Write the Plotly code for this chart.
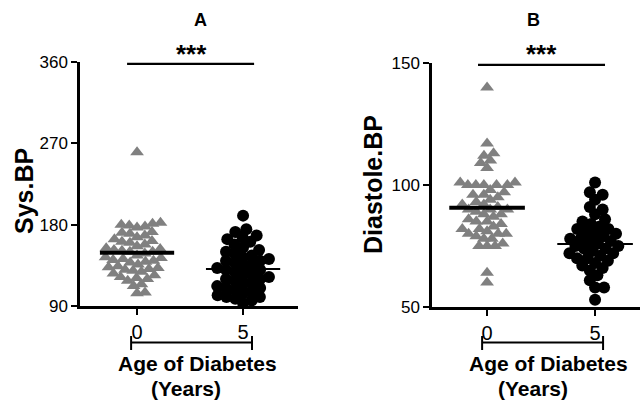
import math
import plotly.graph_objects as go

# ---------------- data ----------------
groups = [0, 5]
group_labels = ["0", "5"]

sys_0 = [260,
         182, 180, 181, 178, 179, 177,
         172, 170, 168, 171, 166,
         164, 162, 160, 158, 161, 156,
         154, 152, 150, 150, 148, 153, 146, 151,
         144, 142, 140, 141, 138, 143, 136, 139,
         134, 132, 130, 131, 128, 133, 126, 129,
         124, 122, 120, 121, 118,
         114, 112,
         104, 105]
sys_5 = [190, 175, 172, 168, 166, 164, 161, 158, 155, 152, 150, 148,
         146, 144, 142, 140, 140, 138, 136, 134, 132, 130, 130, 128, 126,
         124, 122, 120, 120, 118, 116, 114, 112, 110, 110, 108, 106, 104,
         102, 100, 100, 98, 96, 93]
sys_means = [149, 131]

dia_0 = [140, 117, 113, 112, 110, 109, 107, 101, 101, 100, 100, 100, 100, 100,
         98, 97, 96, 96, 95, 94, 93, 92, 92, 91, 90, 90, 90, 89, 88, 88, 87,
         86, 85, 85, 84, 83, 82, 82, 81, 80, 80, 80, 79, 78, 78, 76, 75, 75,
         75, 64, 60]
dia_5 = [101, 97, 96, 94, 91, 90, 88, 86, 85, 84, 83, 82, 82, 81, 80, 80, 79,
         78, 78, 77, 77, 76, 75, 75, 74, 74, 73, 72, 72, 71, 70, 70, 69, 68,
         67, 66, 65, 63, 61, 58, 58, 53]
dia_means = [90.7, 75.8]

sys_ticks = [90, 180, 270, 360]
dia_ticks = [50, 100, 150]
sig_text = "***"

# ---------------- layout geometry ----------------
W, H = 640, 402


def px(x):
    return x / W


def py(y):
    return 1 - y / H


L_dom_x = [px(80), px(298)]
L_dom_y = [py(306), py(62)]
L_xr = [-2.69, 7.59]
L_yr = [90, 360]

R_dom_x = [px(432), px(640)]
R_dom_y = [py(307), py(63)]
R_xr = [-2.55, 7.08]
R_yr = [50, 150]


def scale(dom_x, dom_y, xr, yr):
    wpx = (dom_x[1] - dom_x[0]) * W
    hpx = (dom_y[1] - dom_y[0]) * H
    return wpx / (xr[1] - xr[0]), hpx / (yr[1] - yr[0])


def swarm(values, ppx, ppy, D):
    """beeswarm offsets (data x-units) from values, in pixel space."""
    order = sorted(range(len(values)), key=lambda i: values[i])
    placed = []
    offs = [0.0] * len(values)
    flip = 1
    for i in order:
        y = values[i] * ppy
        ivs = []
        for (xp, yp) in placed:
            dy = abs(y - yp)
            if dy < D:
                w = math.sqrt(D * D - dy * dy)
                ivs.append((xp - w, xp + w))
        cands = [0.0] + [a for a, b in ivs] + [b for a, b in ivs]
        cands.sort(key=lambda c: (round(abs(c), 6), -flip * c))
        chosen = 0.0
        for c in cands:
            if all(not (a + 1e-6 < c < b - 1e-6) for a, b in ivs):
                chosen = c
                break
        if abs(chosen) > 1e-6:
            flip = -flip
        placed.append((chosen, y))
        offs[i] = chosen / ppx
    return offs


fig = go.Figure()

L_ppx, L_ppy = scale(L_dom_x, L_dom_y, L_xr, L_yr)
R_ppx, R_ppy = scale(R_dom_x, R_dom_y, R_xr, R_yr)

D_tri = 8.0
D_circ = 9.0
panels = [
    ("x", "y", sys_0, sys_5, sys_means, L_ppx, L_ppy),
    ("x2", "y2", dia_0, dia_5, dia_means, R_ppx, R_ppy),
]
for xa, ya, v0, v5, means, ppx, ppy in panels:
    o0 = swarm(v0, ppx, ppy, D_tri)
    o5 = swarm(v5, ppx, ppy, D_circ)
    fig.add_trace(go.Scatter(
        x=[groups[0] + o for o in o0], y=v0, mode="markers", xaxis=xa, yaxis=ya,
        marker=dict(symbol="triangle-up", size=12, color="#808080", line=dict(width=0)),
        cliponaxis=False, showlegend=False, hoverinfo="y"))
    fig.add_trace(go.Scatter(
        x=[groups[1] + o for o in o5], y=v5, mode="markers", xaxis=xa, yaxis=ya,
        marker=dict(symbol="circle", size=12, color="black", line=dict(width=0)),
        cliponaxis=False, showlegend=False, hoverinfo="y"))
    half = 1.75
    fig.add_trace(go.Scatter(
        x=[groups[0] - half, groups[0] + half], y=[means[0], means[0]], mode="lines",
        xaxis=xa, yaxis=ya, line=dict(color="black", width=4),
        showlegend=False, hoverinfo="skip", cliponaxis=False))
    fig.add_trace(go.Scatter(
        x=[groups[1] - half, groups[1] + half], y=[means[1], means[1]], mode="lines",
        xaxis=xa, yaxis=ya, line=dict(color="black", width=2),
        showlegend=False, hoverinfo="skip", cliponaxis=False))

axis_common = dict(showline=True, linewidth=2.5, linecolor="black", showgrid=False,
                   zeroline=False, ticks="outside", ticklen=6, tickwidth=2,
                   tickcolor="black", fixedrange=True, automargin=False)
xfont = dict(family="Liberation Sans, Arial", size=20, color="black")
yfont = dict(family="Liberation Sans, Arial", size=17, color="black")

fig.update_layout(
    width=W, height=H, autosize=False, margin=dict(l=0, r=0, t=0, b=0, pad=0),
    paper_bgcolor="white", plot_bgcolor="white",
    xaxis=dict(domain=L_dom_x, range=L_xr, tickvals=groups, ticktext=group_labels,
               anchor="y", tickfont=xfont, **axis_common),
    yaxis=dict(domain=L_dom_y, range=L_yr, tickvals=sys_ticks, anchor="x",
               tickfont=yfont, **axis_common),
    xaxis2=dict(domain=R_dom_x, range=R_xr, tickvals=groups, ticktext=group_labels,
                anchor="y2", tickfont=xfont, **axis_common),
    yaxis2=dict(domain=R_dom_y, range=R_yr, tickvals=dia_ticks, anchor="x2",
                tickfont=yfont, **axis_common),
)

shapes = []
annots = []
bold = "Liberation Sans, Arial"
# significance bars
for xa, ya, x0, x1, yv in [("x", "y", -0.47, 5.52, 358), ("x2", "y2", -0.42, 5.46, 149.2)]:
    shapes.append(dict(type="line", xref=xa, yref=ya, x0=x0, x1=x1, y0=yv, y1=yv,
                       line=dict(color="black", width=2.2)))
# *** labels
for cx in [191, 541]:
    annots.append(dict(x=px(cx), y=py(54), xref="paper", yref="paper", text="<b>" + sig_text + "</b>",
                       showarrow=False, font=dict(family=bold, size=26, color="black"),
                       xanchor="center", yanchor="middle"))
# panel letters
for cx, t in [(200, "A"), (533, "B")]:
    annots.append(dict(x=px(cx), y=py(20), xref="paper", yref="paper", text="<b>" + t + "</b>",
                       showarrow=False, font=dict(family=bold, size=18, color="black"),
                       xanchor="center", yanchor="middle"))
# x brackets
for xa, x0, x1 in [("x", -0.28, 5.42), ("x2", -0.23, 5.37)]:
    shapes.append(dict(type="line", xref=xa, yref="paper", x0=x0, x1=x1, y0=py(342.5), y1=py(342.5),
                       line=dict(color="black", width=2.2)))
    for xe in (x0, x1):
        shapes.append(dict(type="line", xref=xa, yref="paper", x0=xe, x1=xe, y0=py(336), y1=py(350),
                           line=dict(color="black", width=2)))
# x titles
for cx1, cx2 in [(197, 186), (548, 533)]:
    annots.append(dict(x=px(cx1), y=py(363), xref="paper", yref="paper", text="<b>Age of Diabetes</b>",
                       showarrow=False, font=dict(family=bold, size=21, color="black"),
                       xanchor="center", yanchor="middle"))
    annots.append(dict(x=px(cx2), y=py(388), xref="paper", yref="paper", text="<b>(Years)</b>",
                       showarrow=False, font=dict(family=bold, size=21, color="black"),
                       xanchor="center", yanchor="middle"))
# y titles
for cx, cy, t in [(24, 191, "Sys.BP"), (373, 185, "Diastole.BP")]:
    annots.append(dict(x=px(cx), y=py(cy), xref="paper", yref="paper", text="<b>" + t + "</b>",
                       showarrow=False, textangle=-90, font=dict(family=bold, size=25, color="black"),
                       xanchor="center", yanchor="middle"))

fig.update_layout(shapes=shapes, annotations=annots)
fig.write_html("out.html", config={"responsive": False, "displayModeBar": False},
               post_script="document.body.style.margin='0';document.body.style.padding='0';"
                           "document.documentElement.style.overflow='hidden';")
